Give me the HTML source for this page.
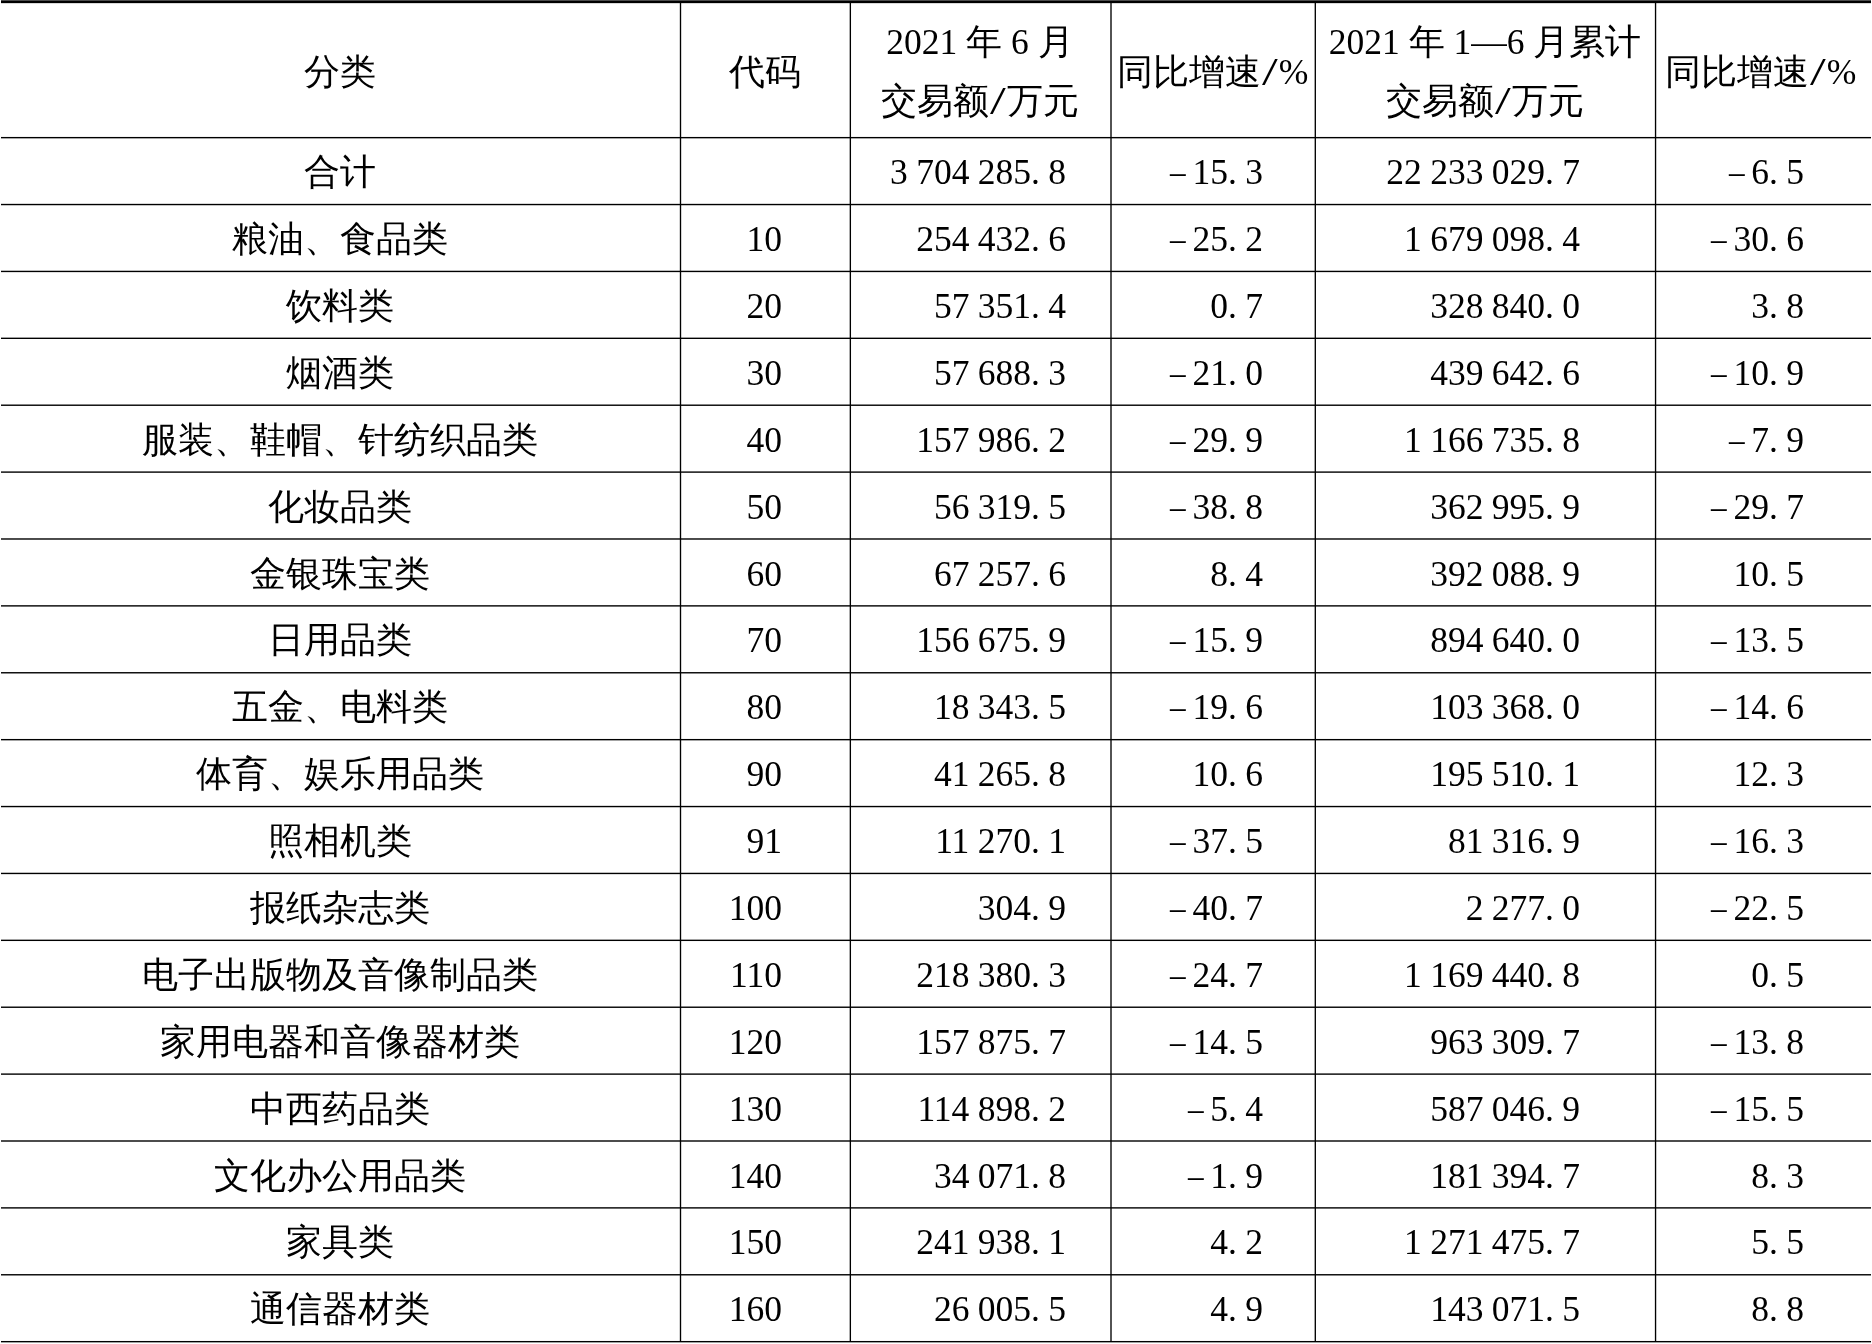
<!DOCTYPE html>
<html><head><meta charset="utf-8"><style>
html,body{margin:0;padding:0;background:#fff;}
body{width:1872px;height:1344px;overflow:hidden;position:relative;font-family:"Liberation Serif",serif;font-size:35.5px;color:#000;}
.h{position:absolute;left:1px;width:1870px;height:1px;background:#000;mix-blend-mode:multiply;}
.v{position:absolute;top:3px;width:1px;background:#000;mix-blend-mode:multiply;}
.t{position:absolute;white-space:nowrap;line-height:40px;height:40px;}
.c{text-align:center;}
.sl{display:inline-block;width:18px;text-align:center;transform:scale(1.6,1.1);}
.r{text-align:right;}
.m{display:inline-block;transform:scaleX(0.88);margin-right:6px;}
.n{word-spacing:-0.5px;}
</style></head><body>

<div style="position:absolute;left:1px;top:0px;width:1870px;height:1px;background:#4d4d4d"></div>
<div style="position:absolute;left:1px;top:1px;width:1870px;height:1px;background:#000000"></div>
<div style="position:absolute;left:1px;top:2px;width:1870px;height:1px;background:#000000"></div>
<div style="position:absolute;left:1px;top:3px;width:1870px;height:1px;background:#d9d9d9"></div>
<div class="h" style="top:136px;background:#f2f2f2"></div>
<div class="h" style="top:137px;background:#000000"></div>
<div class="h" style="top:138px;background:#a6a6a6"></div>
<div class="h" style="top:203px;background:#d6d6d6"></div>
<div class="h" style="top:204px;background:#000000"></div>
<div class="h" style="top:205px;background:#c2c2c2"></div>
<div class="h" style="top:270px;background:#bababa"></div>
<div class="h" style="top:271px;background:#000000"></div>
<div class="h" style="top:272px;background:#dedede"></div>
<div class="h" style="top:337px;background:#9e9e9e"></div>
<div class="h" style="top:338px;background:#000000"></div>
<div class="h" style="top:404px;background:#828282"></div>
<div class="h" style="top:405px;background:#171717"></div>
<div class="h" style="top:471px;background:#666666"></div>
<div class="h" style="top:472px;background:#333333"></div>
<div class="h" style="top:538px;background:#4a4a4a"></div>
<div class="h" style="top:539px;background:#4f4f4f"></div>
<div class="h" style="top:605px;background:#2e2e2e"></div>
<div class="h" style="top:606px;background:#6b6b6b"></div>
<div class="h" style="top:672px;background:#121212"></div>
<div class="h" style="top:673px;background:#878787"></div>
<div class="h" style="top:738px;background:#f5f5f5"></div>
<div class="h" style="top:739px;background:#000000"></div>
<div class="h" style="top:740px;background:#a3a3a3"></div>
<div class="h" style="top:805px;background:#d9d9d9"></div>
<div class="h" style="top:806px;background:#000000"></div>
<div class="h" style="top:807px;background:#bfbfbf"></div>
<div class="h" style="top:872px;background:#bdbdbd"></div>
<div class="h" style="top:873px;background:#000000"></div>
<div class="h" style="top:874px;background:#dbdbdb"></div>
<div class="h" style="top:939px;background:#a1a1a1"></div>
<div class="h" style="top:940px;background:#000000"></div>
<div class="h" style="top:941px;background:#f7f7f7"></div>
<div class="h" style="top:1006px;background:#858585"></div>
<div class="h" style="top:1007px;background:#141414"></div>
<div class="h" style="top:1073px;background:#696969"></div>
<div class="h" style="top:1074px;background:#303030"></div>
<div class="h" style="top:1140px;background:#4c4c4c"></div>
<div class="h" style="top:1141px;background:#4c4c4c"></div>
<div class="h" style="top:1207px;background:#303030"></div>
<div class="h" style="top:1208px;background:#696969"></div>
<div class="h" style="top:1274px;background:#141414"></div>
<div class="h" style="top:1275px;background:#858585"></div>
<div class="h" style="top:1340px;background:#f7f7f7"></div>
<div class="h" style="top:1341px;background:#000000"></div>
<div class="h" style="top:1342px;background:#a1a1a1"></div>
<div class="v" style="left:679px;height:1339px;background:#d2d2d2"></div>
<div class="v" style="left:680px;height:1339px;background:#000000"></div>
<div class="v" style="left:681px;height:1339px;background:#d2d2d2"></div>
<div class="v" style="left:849px;height:1339px;background:#acacac"></div>
<div class="v" style="left:850px;height:1339px;background:#000000"></div>
<div class="v" style="left:851px;height:1339px;background:#f9f9f9"></div>
<div class="v" style="left:1110px;height:1339px;background:#535353"></div>
<div class="v" style="left:1111px;height:1339px;background:#535353"></div>
<div class="v" style="left:1314px;height:1339px;background:#9f9f9f"></div>
<div class="v" style="left:1315px;height:1339px;background:#060606"></div>
<div class="v" style="left:1654px;height:1339px;background:#dfdfdf"></div>
<div class="v" style="left:1655px;height:1339px;background:#000000"></div>
<div class="v" style="left:1656px;height:1339px;background:#c6c6c6"></div>
<div class="t c" style="left:0px;top:52.0px;width:680px">分类</div>
<div class="t c" style="left:680px;top:52.0px;width:170px">代码</div>
<div class="t c" style="left:850px;top:22.0px;width:260px">2021 年 6 月</div>
<div class="t c" style="left:850px;top:81.0px;width:260px">交易额<span class="sl">/</span>万元</div>
<div class="t c" style="left:1110px;top:52.0px;width:205px">同比增速<span class="sl">/</span>%</div>
<div class="t c" style="left:1315px;top:22.0px;width:340px">2021 年 1—6 月累计</div>
<div class="t c" style="left:1315px;top:81.0px;width:340px">交易额<span class="sl">/</span>万元</div>
<div class="t c" style="left:1655px;top:52.0px;width:211px">同比增速<span class="sl">/</span>%</div>
<div class="t c" style="left:0px;top:152.2px;width:680px">合计</div>
<div class="t r n" style="left:766px;top:152.2px;width:300px">3 704 285. 8</div>
<div class="t r n" style="left:963px;top:152.2px;width:300px"><span class="m">–</span>15. 3</div>
<div class="t r n" style="left:1280px;top:152.2px;width:300px">22 233 029. 7</div>
<div class="t r n" style="left:1504px;top:152.2px;width:300px"><span class="m">–</span>6. 5</div>
<div class="t c" style="left:0px;top:219.1px;width:680px">粮油、食品类</div>
<div class="t r n" style="left:482px;top:219.1px;width:300px">10</div>
<div class="t r n" style="left:766px;top:219.1px;width:300px">254 432. 6</div>
<div class="t r n" style="left:963px;top:219.1px;width:300px"><span class="m">–</span>25. 2</div>
<div class="t r n" style="left:1280px;top:219.1px;width:300px">1 679 098. 4</div>
<div class="t r n" style="left:1504px;top:219.1px;width:300px"><span class="m">–</span>30. 6</div>
<div class="t c" style="left:0px;top:286.0px;width:680px">饮料类</div>
<div class="t r n" style="left:482px;top:286.0px;width:300px">20</div>
<div class="t r n" style="left:766px;top:286.0px;width:300px">57 351. 4</div>
<div class="t r n" style="left:963px;top:286.0px;width:300px">0. 7</div>
<div class="t r n" style="left:1280px;top:286.0px;width:300px">328 840. 0</div>
<div class="t r n" style="left:1504px;top:286.0px;width:300px">3. 8</div>
<div class="t c" style="left:0px;top:352.9px;width:680px">烟酒类</div>
<div class="t r n" style="left:482px;top:352.9px;width:300px">30</div>
<div class="t r n" style="left:766px;top:352.9px;width:300px">57 688. 3</div>
<div class="t r n" style="left:963px;top:352.9px;width:300px"><span class="m">–</span>21. 0</div>
<div class="t r n" style="left:1280px;top:352.9px;width:300px">439 642. 6</div>
<div class="t r n" style="left:1504px;top:352.9px;width:300px"><span class="m">–</span>10. 9</div>
<div class="t c" style="left:0px;top:419.8px;width:680px">服装、鞋帽、针纺织品类</div>
<div class="t r n" style="left:482px;top:419.8px;width:300px">40</div>
<div class="t r n" style="left:766px;top:419.8px;width:300px">157 986. 2</div>
<div class="t r n" style="left:963px;top:419.8px;width:300px"><span class="m">–</span>29. 9</div>
<div class="t r n" style="left:1280px;top:419.8px;width:300px">1 166 735. 8</div>
<div class="t r n" style="left:1504px;top:419.8px;width:300px"><span class="m">–</span>7. 9</div>
<div class="t c" style="left:0px;top:486.6px;width:680px">化妆品类</div>
<div class="t r n" style="left:482px;top:486.6px;width:300px">50</div>
<div class="t r n" style="left:766px;top:486.6px;width:300px">56 319. 5</div>
<div class="t r n" style="left:963px;top:486.6px;width:300px"><span class="m">–</span>38. 8</div>
<div class="t r n" style="left:1280px;top:486.6px;width:300px">362 995. 9</div>
<div class="t r n" style="left:1504px;top:486.6px;width:300px"><span class="m">–</span>29. 7</div>
<div class="t c" style="left:0px;top:553.5px;width:680px">金银珠宝类</div>
<div class="t r n" style="left:482px;top:553.5px;width:300px">60</div>
<div class="t r n" style="left:766px;top:553.5px;width:300px">67 257. 6</div>
<div class="t r n" style="left:963px;top:553.5px;width:300px">8. 4</div>
<div class="t r n" style="left:1280px;top:553.5px;width:300px">392 088. 9</div>
<div class="t r n" style="left:1504px;top:553.5px;width:300px">10. 5</div>
<div class="t c" style="left:0px;top:620.4px;width:680px">日用品类</div>
<div class="t r n" style="left:482px;top:620.4px;width:300px">70</div>
<div class="t r n" style="left:766px;top:620.4px;width:300px">156 675. 9</div>
<div class="t r n" style="left:963px;top:620.4px;width:300px"><span class="m">–</span>15. 9</div>
<div class="t r n" style="left:1280px;top:620.4px;width:300px">894 640. 0</div>
<div class="t r n" style="left:1504px;top:620.4px;width:300px"><span class="m">–</span>13. 5</div>
<div class="t c" style="left:0px;top:687.3px;width:680px">五金、电料类</div>
<div class="t r n" style="left:482px;top:687.3px;width:300px">80</div>
<div class="t r n" style="left:766px;top:687.3px;width:300px">18 343. 5</div>
<div class="t r n" style="left:963px;top:687.3px;width:300px"><span class="m">–</span>19. 6</div>
<div class="t r n" style="left:1280px;top:687.3px;width:300px">103 368. 0</div>
<div class="t r n" style="left:1504px;top:687.3px;width:300px"><span class="m">–</span>14. 6</div>
<div class="t c" style="left:0px;top:754.2px;width:680px">体育、娱乐用品类</div>
<div class="t r n" style="left:482px;top:754.2px;width:300px">90</div>
<div class="t r n" style="left:766px;top:754.2px;width:300px">41 265. 8</div>
<div class="t r n" style="left:963px;top:754.2px;width:300px">10. 6</div>
<div class="t r n" style="left:1280px;top:754.2px;width:300px">195 510. 1</div>
<div class="t r n" style="left:1504px;top:754.2px;width:300px">12. 3</div>
<div class="t c" style="left:0px;top:821.1px;width:680px">照相机类</div>
<div class="t r n" style="left:482px;top:821.1px;width:300px">91</div>
<div class="t r n" style="left:766px;top:821.1px;width:300px">11 270. 1</div>
<div class="t r n" style="left:963px;top:821.1px;width:300px"><span class="m">–</span>37. 5</div>
<div class="t r n" style="left:1280px;top:821.1px;width:300px">81 316. 9</div>
<div class="t r n" style="left:1504px;top:821.1px;width:300px"><span class="m">–</span>16. 3</div>
<div class="t c" style="left:0px;top:888.0px;width:680px">报纸杂志类</div>
<div class="t r n" style="left:482px;top:888.0px;width:300px">100</div>
<div class="t r n" style="left:766px;top:888.0px;width:300px">304. 9</div>
<div class="t r n" style="left:963px;top:888.0px;width:300px"><span class="m">–</span>40. 7</div>
<div class="t r n" style="left:1280px;top:888.0px;width:300px">2 277. 0</div>
<div class="t r n" style="left:1504px;top:888.0px;width:300px"><span class="m">–</span>22. 5</div>
<div class="t c" style="left:0px;top:954.9px;width:680px">电子出版物及音像制品类</div>
<div class="t r n" style="left:482px;top:954.9px;width:300px">110</div>
<div class="t r n" style="left:766px;top:954.9px;width:300px">218 380. 3</div>
<div class="t r n" style="left:963px;top:954.9px;width:300px"><span class="m">–</span>24. 7</div>
<div class="t r n" style="left:1280px;top:954.9px;width:300px">1 169 440. 8</div>
<div class="t r n" style="left:1504px;top:954.9px;width:300px">0. 5</div>
<div class="t c" style="left:0px;top:1021.8px;width:680px">家用电器和音像器材类</div>
<div class="t r n" style="left:482px;top:1021.8px;width:300px">120</div>
<div class="t r n" style="left:766px;top:1021.8px;width:300px">157 875. 7</div>
<div class="t r n" style="left:963px;top:1021.8px;width:300px"><span class="m">–</span>14. 5</div>
<div class="t r n" style="left:1280px;top:1021.8px;width:300px">963 309. 7</div>
<div class="t r n" style="left:1504px;top:1021.8px;width:300px"><span class="m">–</span>13. 8</div>
<div class="t c" style="left:0px;top:1088.7px;width:680px">中西药品类</div>
<div class="t r n" style="left:482px;top:1088.7px;width:300px">130</div>
<div class="t r n" style="left:766px;top:1088.7px;width:300px">114 898. 2</div>
<div class="t r n" style="left:963px;top:1088.7px;width:300px"><span class="m">–</span>5. 4</div>
<div class="t r n" style="left:1280px;top:1088.7px;width:300px">587 046. 9</div>
<div class="t r n" style="left:1504px;top:1088.7px;width:300px"><span class="m">–</span>15. 5</div>
<div class="t c" style="left:0px;top:1155.5px;width:680px">文化办公用品类</div>
<div class="t r n" style="left:482px;top:1155.5px;width:300px">140</div>
<div class="t r n" style="left:766px;top:1155.5px;width:300px">34 071. 8</div>
<div class="t r n" style="left:963px;top:1155.5px;width:300px"><span class="m">–</span>1. 9</div>
<div class="t r n" style="left:1280px;top:1155.5px;width:300px">181 394. 7</div>
<div class="t r n" style="left:1504px;top:1155.5px;width:300px">8. 3</div>
<div class="t c" style="left:0px;top:1222.4px;width:680px">家具类</div>
<div class="t r n" style="left:482px;top:1222.4px;width:300px">150</div>
<div class="t r n" style="left:766px;top:1222.4px;width:300px">241 938. 1</div>
<div class="t r n" style="left:963px;top:1222.4px;width:300px">4. 2</div>
<div class="t r n" style="left:1280px;top:1222.4px;width:300px">1 271 475. 7</div>
<div class="t r n" style="left:1504px;top:1222.4px;width:300px">5. 5</div>
<div class="t c" style="left:0px;top:1289.3px;width:680px">通信器材类</div>
<div class="t r n" style="left:482px;top:1289.3px;width:300px">160</div>
<div class="t r n" style="left:766px;top:1289.3px;width:300px">26 005. 5</div>
<div class="t r n" style="left:963px;top:1289.3px;width:300px">4. 9</div>
<div class="t r n" style="left:1280px;top:1289.3px;width:300px">143 071. 5</div>
<div class="t r n" style="left:1504px;top:1289.3px;width:300px">8. 8</div>
</body></html>
